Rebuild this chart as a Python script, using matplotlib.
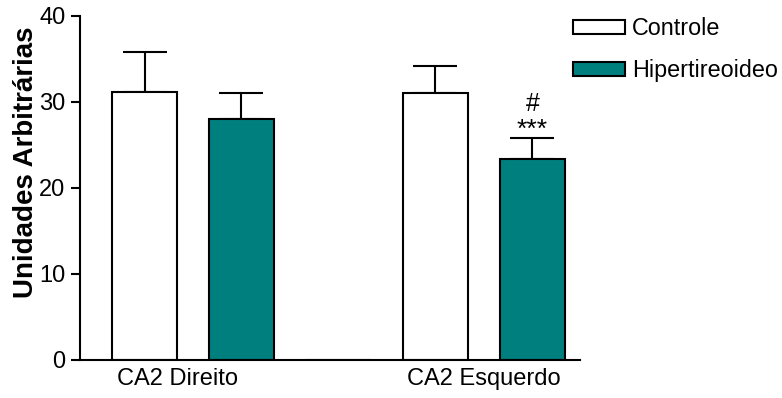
import matplotlib
matplotlib.use("Agg")
import matplotlib.pyplot as plt
import numpy as np

plt.rcParams['font.family'] = ['Liberation Sans', 'DejaVu Sans']

groups = ["CA2 Direito", "CA2 Esquerdo"]
series = ["Controle", "Hipertireoideo"]
controle_mean = [31.2, 31.1]
controle_err = [4.6, 3.1]
hiper_mean = [28.0, 23.4]
hiper_err = [3.0, 2.4]
colors = ["white", "#007f7f"]
annot_last = ["***", "#"]

fig = plt.figure(figsize=(7.82, 3.98), dpi=100)
ax = fig.add_axes([80 / 782, 38 / 398, 500 / 782, 344 / 398])

width = 0.67
slot = 3  # two bars plus an empty spacer column per group
means = [controle_mean, hiper_mean]
errs = [controle_err, hiper_err]
for s in range(2):
    x = np.arange(len(groups)) * slot + s
    ax.bar(x, means[s], width, color=colors[s], edgecolor="black",
           linewidth=1.5, label=series[s], zorder=2)
    ax.errorbar(x, means[s], yerr=[np.zeros(len(groups)), errs[s]],
                fmt="none", ecolor="black", elinewidth=1.5,
                capsize=16, capthick=1.5, zorder=1)

# empty spacer column between the groups
ax.bar([2], [0], width, color="white", edgecolor="black", linewidth=1.5, zorder=2)

# significance marks over the last bar
x_last = (len(groups) - 1) * slot + 1
top = hiper_mean[-1] + hiper_err[-1]
ax.text(x_last, top + 0.2, annot_last[0], ha="center", va="baseline", fontsize=19)
ax.text(x_last, top + 3.2, annot_last[1], ha="center", va="baseline", fontsize=18)

ax.set_xlim(-0.665, 4.49)
ax.set_ylim(0, 40)
ax.set_yticks([0, 10, 20, 30, 40])
ax.set_xticks([0.34, 3.5])
ax.set_xticklabels(groups, fontsize=17)
ax.tick_params(axis="y", labelsize=17, length=6.5, width=1.5, direction="out", pad=4)
ax.tick_params(axis="x", length=0, pad=6)
for side in ["top", "right"]:
    ax.spines[side].set_visible(False)
for side in ["left", "bottom"]:
    ax.spines[side].set_linewidth(1.5)
ax.set_ylabel("Unidades Arbitrárias", fontsize=20, fontweight="bold")
ax.yaxis.set_label_coords(-0.082, 0.574)

leg = fig.legend(loc="upper left", bbox_to_anchor=(564 / 782, 1 - 8 / 398),
                 frameon=False, fontsize=16.8, handlelength=2.2, handleheight=0.55,
                 labelspacing=0.8, handletextpad=0.3, borderaxespad=0)

fig.savefig("out.png", dpi=100)
